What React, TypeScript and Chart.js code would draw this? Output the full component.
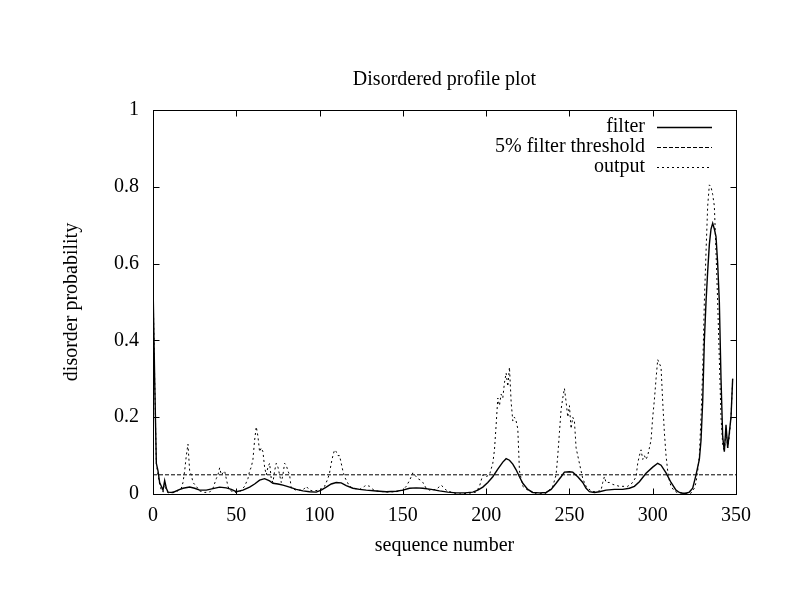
import React, { useEffect, useRef } from "react";
import { Chart, registerables } from "chart.js";

Chart.register(...registerables);

const chartTitle = "Disordered profile plot";
const xAxisTitle = "sequence number";
const yAxisTitle = "disorder probability";
const legendLabels = ["filter", "5% filter threshold", "output"];

const xTicks = [0, 50, 100, 150, 200, 250, 300, 350];
const yTicks = [0, 0.2, 0.4, 0.6, 0.8, 1];
const yTickLabels = ["0", "0.2", "0.4", "0.6", "0.8", "1"];

const thresholdX = [0, 350];
const thresholdY = [0.05, 0.05];

const filterX = [0, 1, 2, 3, 4, 5, 6, 7, 8, 9, 12, 15, 18, 22, 25, 28, 32, 36, 40, 44, 47, 50, 54, 58, 61, 64, 67, 70, 72, 75, 78, 82, 86, 90, 94, 98, 101, 104, 107, 110, 113, 116, 120, 124, 128, 134, 140, 146, 150, 154, 158, 162, 167, 172, 177, 182, 187, 192, 195, 198, 201, 204, 207, 210, 212, 214, 216, 218, 220, 222, 225, 228, 232, 236, 239, 242, 245, 247, 250, 252, 255, 258, 260, 262, 265, 268, 272, 277, 282, 286, 289, 292, 296, 300, 303, 305, 308, 311, 314, 316, 318, 320, 322, 324, 326, 328, 329, 330, 331, 332, 333, 334, 335, 336, 337, 338, 339, 340, 341, 342, 343, 344, 345, 346, 347, 348];
const filterY = [0.55, 0.3, 0.08, 0.06, 0.03, 0.02, 0.01, 0.035, 0.015, 0.005, 0.004, 0.01, 0.015, 0.018, 0.015, 0.01, 0.01, 0.014, 0.018, 0.016, 0.012, 0.006, 0.01, 0.018, 0.026, 0.036, 0.04, 0.034, 0.028, 0.026, 0.023, 0.018, 0.012, 0.008, 0.006, 0.005, 0.01, 0.018, 0.026, 0.03, 0.029, 0.022, 0.015, 0.012, 0.01, 0.008, 0.006, 0.007, 0.01, 0.015, 0.016, 0.015, 0.012, 0.008, 0.005, 0.003, 0.003, 0.005, 0.01, 0.018, 0.03, 0.045, 0.065, 0.083, 0.092, 0.088, 0.078, 0.063, 0.045, 0.028, 0.012, 0.004, 0.003, 0.004, 0.012, 0.028, 0.045, 0.057, 0.058, 0.057, 0.045, 0.03, 0.015, 0.006, 0.004, 0.006, 0.01, 0.012, 0.012, 0.015, 0.02, 0.032, 0.054, 0.07, 0.08, 0.075, 0.055, 0.03, 0.01, 0.004, 0.002, 0.002, 0.005, 0.015, 0.05, 0.09, 0.14, 0.24, 0.4, 0.5, 0.58, 0.65, 0.69, 0.705, 0.69, 0.67, 0.6, 0.5, 0.3, 0.15, 0.11, 0.18, 0.12, 0.16, 0.2, 0.3];

const outputX = [0, 1, 2, 3, 4, 5, 6, 7, 8, 9, 12, 15, 17, 18, 19, 20, 21, 22, 23, 24, 26, 28, 31, 34, 36, 38, 39, 40, 41, 42, 43, 44, 45, 46, 49, 52, 55, 57, 58, 59, 60, 61, 62, 63, 64, 65, 66, 67, 68, 69, 70, 71, 72, 73, 74, 75, 76, 77, 78, 79, 80, 81, 82, 83, 86, 90, 92, 94, 96, 100, 103, 105, 106, 107, 108, 109, 110, 111, 112, 113, 114, 115, 116, 118, 120, 124, 127, 128, 130, 132, 134, 140, 146, 150, 152, 154, 156, 158, 159, 161, 162, 164, 166, 170, 173, 175, 176, 180, 184, 190, 194, 196, 198, 200, 202, 204, 205, 206, 207, 208, 209, 210, 211, 212, 213, 214, 215, 216, 217, 218, 219, 220, 221, 222, 225, 230, 236, 240, 242, 243, 244, 245, 246, 247, 248, 249, 250, 251, 252, 253, 254, 256, 257, 258, 260, 263, 266, 269, 270, 271, 272, 273, 274, 276, 280, 285, 288, 290, 291, 292, 293, 294, 295, 296, 297, 298, 299, 300, 301, 302, 303, 304, 305, 306, 307, 308, 309, 310, 311, 313, 315, 320, 323, 325, 326, 327, 328, 329, 330, 331, 332, 333, 334, 335, 336, 337, 338, 339, 340, 341, 342, 343, 344, 345, 346, 347, 348];
const outputY = [0.55, 0.3, 0.08, 0.05, 0.025, 0.01, 0.005, 0.03, 0.01, 0.003, 0.005, 0.008, 0.015, 0.03, 0.06, 0.1, 0.13, 0.06, 0.05, 0.03, 0.02, 0.008, 0.004, 0.005, 0.015, 0.04, 0.05, 0.068, 0.05, 0.055, 0.06, 0.04, 0.02, 0.01, 0.004, 0.005, 0.02, 0.04, 0.06, 0.07, 0.09, 0.14, 0.175, 0.15, 0.11, 0.12, 0.11, 0.07, 0.05, 0.07, 0.08, 0.04, 0.03, 0.06, 0.08, 0.07, 0.05, 0.03, 0.05, 0.08, 0.075, 0.06, 0.05, 0.015, 0.01, 0.01, 0.02, 0.01, 0.008, 0.01, 0.02, 0.04, 0.055, 0.08, 0.1, 0.115, 0.11, 0.1, 0.1, 0.08, 0.06, 0.045, 0.036, 0.02, 0.015, 0.012, 0.02, 0.023, 0.02, 0.012, 0.008, 0.005, 0.006, 0.01, 0.02, 0.035, 0.055, 0.045, 0.04, 0.035, 0.03, 0.015, 0.01, 0.012, 0.023, 0.015, 0.01, 0.003, 0.0, 0.002, 0.005, 0.02, 0.05, 0.045, 0.05, 0.08, 0.115, 0.18, 0.25, 0.23, 0.26, 0.25, 0.29, 0.315, 0.28, 0.33, 0.24, 0.19, 0.2, 0.19, 0.17, 0.06, 0.04, 0.02, 0.01, 0.0, 0.002, 0.02, 0.05, 0.1, 0.16, 0.22, 0.25, 0.275, 0.24, 0.2, 0.23, 0.17, 0.2, 0.19, 0.12, 0.08, 0.06, 0.04, 0.02, 0.008, 0.005, 0.01, 0.03, 0.045, 0.03, 0.03, 0.03, 0.025, 0.02, 0.02, 0.03, 0.045, 0.08, 0.1, 0.115, 0.09, 0.1, 0.09, 0.1, 0.12, 0.14, 0.2, 0.245, 0.3, 0.35, 0.34, 0.33, 0.24, 0.16, 0.1, 0.06, 0.035, 0.02, 0.008, 0.003, 0.002, 0.002, 0.015, 0.03, 0.06, 0.1, 0.2, 0.32, 0.5, 0.63, 0.75, 0.805, 0.8, 0.78, 0.75, 0.63, 0.5, 0.35, 0.2, 0.13, 0.11, 0.17, 0.12, 0.15, 0.2, 0.3];

const FONT = "'Liberation Serif', 'DejaVu Serif', serif";

const toPoints = (xs: number[], ys: number[]) => xs.map((x, i) => ({ x, y: ys[i] }));

const gnuplotFrame = {
  id: "gnuplotFrame",
  afterDraw(chart: any) {
    const { ctx, chartArea: a, scales } = chart;
    const xs = scales.x;
    const ys = scales.y;
    ctx.save();
    ctx.strokeStyle = "#000";
    ctx.lineWidth = 1;
    ctx.setLineDash([]);
    const L = Math.round(a.left) + 0.5;
    const R = Math.round(a.right) + 0.5;
    const T = Math.round(a.top) + 0.5;
    const B = Math.round(a.bottom) + 0.5;
    ctx.strokeRect(L, T, R - L, B - T);
    const tl = 6;
    ctx.beginPath();
    for (const v of xTicks) {
      const px = Math.round(xs.getPixelForValue(v)) + 0.5;
      ctx.moveTo(px, B);
      ctx.lineTo(px, B - tl);
      ctx.moveTo(px, T);
      ctx.lineTo(px, T + tl);
    }
    for (const v of yTicks) {
      const py = Math.round(ys.getPixelForValue(v)) + 0.5;
      ctx.moveTo(L, py);
      ctx.lineTo(L + tl, py);
      ctx.moveTo(R, py);
      ctx.lineTo(R - tl, py);
    }
    ctx.stroke();

    // legend (gnuplot style, top-right inside plot)
    const dashes = [[], [4, 2], [2, 3]];
    const textRight = a.right - 91;
    const lineStart = a.right - 79;
    const lineEnd = a.right - 24;
    ctx.font = `20px ${FONT}`;
    ctx.fillStyle = "#000";
    ctx.textAlign = "right";
    ctx.textBaseline = "middle";
    legendLabels.forEach((label, i) => {
      const y = a.top + 16.5 + i * 20;
      ctx.fillText(label, textRight, y);
      ctx.beginPath();
      ctx.setLineDash(dashes[i]);
      ctx.lineWidth = i === 0 ? 1.3 : 1;
      ctx.moveTo(lineStart, Math.round(y) + 0.5);
      ctx.lineTo(lineEnd, Math.round(y) + 0.5);
      ctx.stroke();
    });
    ctx.restore();
  },
};

export default function App() {
  const ref = useRef<HTMLCanvasElement | null>(null);

  useEffect(() => {
    if (!ref.current) return;
    const chart = new Chart(ref.current, {
      type: "line",
      data: {
        datasets: [
          {
            label: legendLabels[0],
            data: toPoints(filterX, filterY),
            borderColor: "#000",
            borderWidth: 1.4,
            pointRadius: 0,
            tension: 0,
          },
          {
            label: legendLabels[1],
            data: toPoints(thresholdX, thresholdY),
            borderColor: "#000",
            borderWidth: 1,
            borderDash: [4, 2],
            pointRadius: 0,
            tension: 0,
          },
          {
            label: legendLabels[2],
            data: toPoints(outputX, outputY),
            borderColor: "#000",
            borderWidth: 1,
            borderDash: [2, 3],
            pointRadius: 0,
            tension: 0,
          },
        ],
      },
      options: {
        animation: false,
        responsive: false,
        devicePixelRatio: 1,
        layout: { padding: { left: 56, right: 56, top: 0, bottom: 50 } },
        plugins: {
          legend: { display: false },
          tooltip: { enabled: false },
          title: {
            display: true,
            text: chartTitle,
            fullSize: false,
            color: "#000",
            font: { family: FONT, size: 20, weight: "normal" },
            padding: { top: 68, bottom: 18 },
          },
        },
        scales: {
          x: {
            type: "linear",
            min: 0,
            max: 350,
            afterFit: (s: any) => {
              s.height = 68;
            },
            afterBuildTicks: (s: any) => {
              s.ticks = xTicks.map((v) => ({ value: v }));
            },
            grid: { display: false, drawTicks: false },
            border: { display: false },
            ticks: {
              color: "#000",
              padding: 10,
              maxRotation: 0,
              autoSkip: false,
              font: { family: FONT, size: 20 },
            },
            title: {
              display: true,
              text: xAxisTitle,
              color: "#000",
              padding: 4,
              font: { family: FONT, size: 20 },
            },
          },
          y: {
            type: "linear",
            min: 0,
            max: 1,
            afterFit: (s: any) => {
              s.width = 97;
            },
            afterBuildTicks: (s: any) => {
              s.ticks = yTicks.map((v) => ({ value: v }));
            },
            grid: { display: false, drawTicks: false },
            border: { display: false },
            ticks: {
              color: "#000",
              padding: 14,
              autoSkip: false,
              font: { family: FONT, size: 20 },
              callback: (value: any) => {
                const idx = yTicks.indexOf(Number(value));
                return idx >= 0 ? yTickLabels[idx] : String(value);
              },
            },
            title: {
              display: true,
              text: yAxisTitle,
              color: "#000",
              padding: 4,
              font: { family: FONT, size: 20 },
            },
          },
        },
      },
      plugins: [gnuplotFrame],
    });
    return () => chart.destroy();
  }, []);

  return (
    <div style={{ position: "fixed", left: 0, top: 0, width: 792, height: 612, background: "#fff" }}>
      <canvas ref={ref} width={792} height={612} style={{ width: 792, height: 612 }} />
    </div>
  );
}
